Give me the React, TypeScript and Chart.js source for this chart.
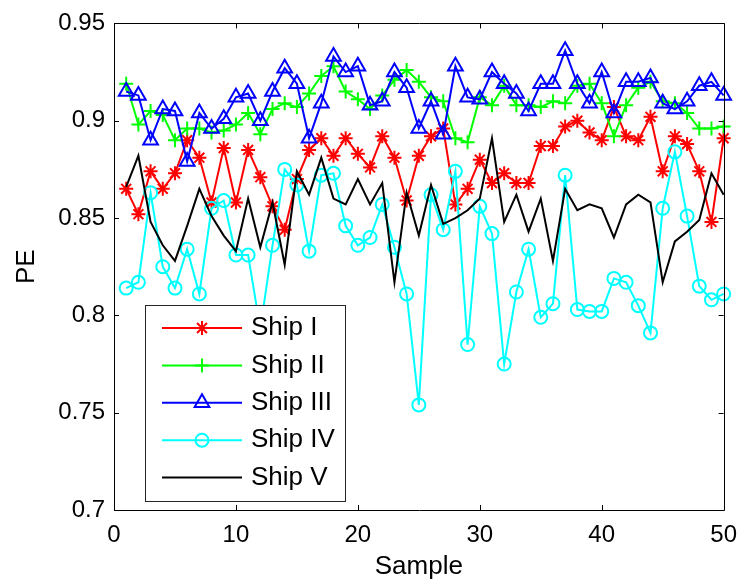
import React, { useEffect, useRef } from 'react';
import { Chart, registerables } from 'chart.js';
import { drawPoint } from 'chart.js/helpers';

Chart.register(...registerables);

const samples = [
  1, 2, 3, 4, 5, 6, 7, 8, 9, 10, 11, 12, 13, 14, 15, 16, 17, 18, 19, 20, 21, 22, 23, 24, 25,
  26, 27, 28, 29, 30, 31, 32, 33, 34, 35, 36, 37, 38, 39, 40, 41, 42, 43, 44, 45, 46, 47, 48, 49, 50,
];

const shipI = [
  0.865, 0.852, 0.874, 0.865, 0.873, 0.890, 0.881, 0.858, 0.886, 0.858,
  0.885, 0.871, 0.856, 0.844, 0.870, 0.885, 0.891, 0.882, 0.891, 0.883,
  0.876, 0.892, 0.881, 0.859, 0.882, 0.892, 0.896, 0.857, 0.865, 0.880,
  0.868, 0.873, 0.868, 0.868, 0.887, 0.887, 0.897, 0.900, 0.894, 0.890,
  0.907, 0.892, 0.890, 0.902, 0.874, 0.892, 0.888, 0.874, 0.848, 0.891,
];

const shipII = [
  0.919, 0.898, 0.905, 0.903, 0.890, 0.896, 0.896, 0.894, 0.895, 0.898,
  0.904, 0.893, 0.906, 0.909, 0.907, 0.914, 0.923, 0.928, 0.915, 0.911,
  0.906, 0.913, 0.921, 0.926, 0.920, 0.912, 0.910, 0.891, 0.889, 0.912,
  0.908, 0.918, 0.908, 0.908, 0.907, 0.910, 0.909, 0.918, 0.919, 0.909,
  0.892, 0.908, 0.917, 0.920, 0.910, 0.909, 0.904, 0.896, 0.896, 0.897,
];

const shipIII = [
  0.915, 0.913, 0.890, 0.906, 0.905, 0.879, 0.904, 0.896, 0.901, 0.912,
  0.914, 0.900, 0.915, 0.927, 0.919, 0.891, 0.909, 0.933, 0.925, 0.928,
  0.908, 0.910, 0.925, 0.917, 0.896, 0.910, 0.893, 0.928, 0.912, 0.911,
  0.925, 0.919, 0.914, 0.905, 0.919, 0.919, 0.936, 0.919, 0.909, 0.925,
  0.904, 0.920, 0.920, 0.922, 0.909, 0.906, 0.910, 0.918, 0.920, 0.913,
];

const shipIV = [
  0.814, 0.817, 0.863, 0.825, 0.814, 0.834, 0.811, 0.855, 0.859, 0.831,
  0.831, 0.793, 0.836, 0.875, 0.867, 0.833, 0.872, 0.873, 0.846, 0.836,
  0.840, 0.857, 0.835, 0.811, 0.754, 0.862, 0.844, 0.874, 0.785, 0.856,
  0.842, 0.775, 0.812, 0.834, 0.799, 0.806, 0.872, 0.803, 0.802, 0.802,
  0.819, 0.817, 0.805, 0.791, 0.855, 0.884, 0.851, 0.815, 0.808, 0.811,
];

const shipV = [
  0.866, 0.882, 0.848, 0.836, 0.828, 0.846, 0.865, 0.851, 0.841, 0.833,
  0.860, 0.835, 0.858, 0.826, 0.874, 0.862, 0.881, 0.860, 0.857, 0.870,
  0.857, 0.868, 0.817, 0.863, 0.841, 0.867, 0.847, 0.850, 0.854, 0.860,
  0.891, 0.848, 0.862, 0.843, 0.860, 0.828, 0.865, 0.854, 0.857, 0.855,
  0.840, 0.857, 0.862, 0.858, 0.817, 0.838, 0.843, 0.849, 0.873, 0.862,
];

const seriesNames = ['Ship I', 'Ship II', 'Ship III', 'Ship IV', 'Ship V'];
const seriesValues = [shipI, shipII, shipIII, shipIV, shipV];
const seriesColors = ['#ff0000', '#00ff00', '#0000ff', '#00ffff', '#000000'];
const seriesMarkers: any[] = ['star', 'cross', 'triangle', 'circle', false];
const markerRadii = [7, 7, 8.5, 6.5, 0];

const xTicks = [0, 10, 20, 30, 40, 50];
const yTicks = [0.7, 0.75, 0.8, 0.85, 0.9, 0.95];
const yTickLabels = ['0.7', '0.75', '0.8', '0.85', '0.9', '0.95'];

const FONT = "'Liberation Sans', Arial, Helvetica, sans-serif";

const framePlugin = {
  id: 'matlabFrame',
  afterDatasetsDraw(chart: any) {
    const { ctx, chartArea: a, scales } = chart;
    ctx.save();
    ctx.strokeStyle = '#000';
    ctx.lineWidth = 1;
    ctx.beginPath();
    ctx.rect(Math.round(a.left) + 0.5, Math.round(a.top) + 0.5, Math.round(a.right - a.left), Math.round(a.bottom - a.top));
    ctx.stroke();
    const tl = 5;
    ctx.beginPath();
    xTicks.forEach((v) => {
      const px = Math.round(scales.x.getPixelForValue(v)) + 0.5;
      ctx.moveTo(px, a.bottom);
      ctx.lineTo(px, a.bottom - tl);
      ctx.moveTo(px, a.top);
      ctx.lineTo(px, a.top + tl);
    });
    yTicks.forEach((v) => {
      const py = Math.round(scales.y.getPixelForValue(v)) + 0.5;
      ctx.moveTo(a.left, py);
      ctx.lineTo(a.left + tl, py);
      ctx.moveTo(a.right, py);
      ctx.lineTo(a.right - tl, py);
    });
    ctx.stroke();

    // legend box
    const bx = Math.round(a.left + 31) + 0.5;
    const by = Math.round(a.top + 282) + 0.5;
    const bw = 200;
    const bh = 196;
    ctx.fillStyle = '#ffffff';
    ctx.fillRect(bx, by, bw, bh);
    ctx.strokeStyle = '#262626';
    ctx.lineWidth = 1;
    ctx.strokeRect(bx, by, bw, bh);
    ctx.font = `26px ${FONT}`;
    ctx.textBaseline = 'middle';
    ctx.textAlign = 'left';
    seriesNames.forEach((name, i) => {
      const cy = by + 22.5 + i * 37.4;
      ctx.strokeStyle = seriesColors[i];
      ctx.lineWidth = 2;
      ctx.beginPath();
      ctx.moveTo(bx + 16.5, cy);
      ctx.lineTo(bx + 96.5, cy);
      ctx.stroke();
      if (seriesMarkers[i]) {
        ctx.fillStyle = 'rgba(0,0,0,0)';
        ctx.strokeStyle = seriesColors[i];
        drawPoint(ctx, { pointStyle: seriesMarkers[i], radius: markerRadii[i], rotation: 0, borderWidth: 2 } as any, bx + 56.5, cy);
      }
      ctx.fillStyle = '#000';
      ctx.fillText(name, bx + 105.5, cy);
    });
    ctx.restore();
  },
};

export default function App() {
  const canvasRef = useRef<HTMLCanvasElement | null>(null);

  useEffect(() => {
    document.body.style.margin = '0';
    const canvas = canvasRef.current;
    if (!canvas) return;
    const datasets = seriesNames.map((name, i) => ({
      label: name,
      data: samples.map((s, j) => ({ x: s, y: seriesValues[i][j] })),
      borderColor: seriesColors[i],
      backgroundColor: 'rgba(0,0,0,0)',
      borderWidth: 2,
      pointStyle: seriesMarkers[i],
      pointRadius: markerRadii[i],
      pointBorderWidth: 2,
      pointBorderColor: seriesColors[i],
      pointBackgroundColor: 'rgba(0,0,0,0)',
      tension: 0,
      clip: false as any,
      order: seriesNames.length - 1 - i,
    }));
    const chart = new Chart(canvas, {
      type: 'line',
      data: { datasets },
      options: {
        responsive: false,
        animation: false,
        events: [],
        devicePixelRatio: 1,
        layout: { padding: { left: 0, right: 16, top: 20, bottom: 0 } },
        plugins: { legend: { display: false }, tooltip: { enabled: false }, title: { display: false } },
        scales: {
          x: {
            type: 'linear',
            min: 0,
            max: 50,
            grid: { display: false, drawTicks: false },
            border: { display: false },
            afterBuildTicks: (scale: any) => {
              scale.ticks = xTicks.map((v) => ({ value: v }));
            },
            afterFit: (scale: any) => {
              scale.height = 73;
            },
            ticks: {
              padding: 11,
              color: '#000',
              font: { family: FONT, size: 24 },
              maxRotation: 0,
              callback: (v: any) => String(v),
            },
            title: {
              display: true,
              text: 'Sample',
              color: '#000',
              font: { family: FONT, size: 26 },
              padding: { top: 0, bottom: 1 },
            },
          },
          y: {
            type: 'linear',
            min: 0.7,
            max: 0.95,
            grid: { display: false, drawTicks: false },
            border: { display: false },
            afterBuildTicks: (scale: any) => {
              scale.ticks = yTicks.map((v) => ({ value: v }));
            },
            afterFit: (scale: any) => {
              scale.width = 114;
            },
            ticks: {
              padding: 9,
              color: '#000',
              font: { family: FONT, size: 24 },
              callback: (v: any) => {
                const k = yTicks.findIndex((t) => Math.abs(t - v) < 1e-9);
                return k >= 0 ? yTickLabels[k] : '';
              },
            },
            title: {
              display: true,
              text: 'PE',
              color: '#000',
              font: { family: FONT, size: 26 },
              padding: { top: 11, bottom: 0 },
            },
          },
        },
      },
      plugins: [framePlugin],
    } as any);
    return () => chart.destroy();
  }, []);

  return (
    <div style={{ position: 'fixed', left: 0, top: 0, width: 748, height: 583, background: '#fff' }}>
      <canvas ref={canvasRef} width={748} height={583} />
    </div>
  );
}
